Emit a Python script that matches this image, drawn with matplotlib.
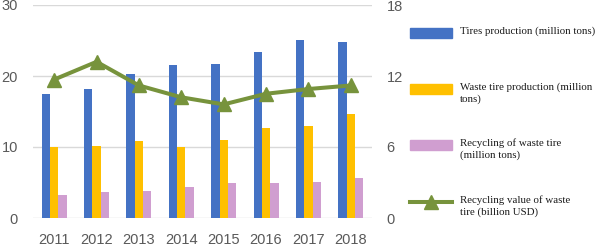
import matplotlib
matplotlib.use("Agg")
import matplotlib.pyplot as plt
import numpy as np
from matplotlib.patches import Rectangle
from matplotlib.lines import Line2D

years = ["2011", "2012", "2013", "2014", "2015", "2016", "2017", "2018"]
tires_production = [17.5, 18.1, 20.3, 21.6, 21.7, 23.4, 25.1, 24.8]
waste_tire_production = [10.0, 10.2, 10.8, 10.0, 11.0, 12.7, 13.0, 14.6]
recycling_waste_tire = [3.3, 3.7, 3.8, 4.3, 5.0, 5.0, 5.1, 5.7]
recycling_value = [11.7, 13.2, 11.2, 10.2, 9.6, 10.5, 10.9, 11.2]

left_ticks = [0, 10, 20, 30]
right_ticks = [0, 6, 12, 18]

labels = ["Tires production (million tons)",
          "Waste tire production (million\ntons)",
          "Recycling of waste tire\n(million tons)",
          "Recycling value of waste\ntire (billion USD)"]

c_blue = "#4472C4"
c_yellow = "#FFC000"
c_pink = "#D09ED0"
c_green = "#77933C"
c_tick = "#595959"

W, H = 602, 250
fig = plt.figure(figsize=(W / 100, H / 100), dpi=100)
ax = fig.add_axes([33 / W, 1 - 218 / H, (372 - 33) / W, (218 - 5) / H])

x = np.arange(len(years))
bw = 0.196
ax.bar(x - bw, tires_production, bw, color=c_blue, zorder=2)
ax.bar(x, waste_tire_production, bw, color=c_yellow, zorder=2)
ax.bar(x + bw, recycling_waste_tire, bw, color=c_pink, zorder=2)

ax.set_xlim(-0.5, len(years) - 0.5)
ax.set_ylim(0, 30)
ax.set_yticks(left_ticks)
ax.set_xticks(x)
ax.set_xticklabels(years)
ax.grid(axis="y", color="#D9D9D9", lw=1, zorder=0)
ax.set_axisbelow(True)
for s in ax.spines.values():
    s.set_visible(False)
ax.tick_params(length=0, colors=c_tick, labelsize=10.5)
ax.tick_params(axis="x", pad=11)
ax.tick_params(axis="y", pad=10.8)
for t in ax.get_yticklabels() + ax.get_xticklabels():
    t.set_fontfamily("Liberation Sans")

ax2 = ax.twinx()
ax2.plot(x, recycling_value, color=c_green, lw=2.9, marker="^", ms=10, zorder=3)
ax2.set_ylim(0, 18)
ax2.set_yticks(right_ticks)
for s in ax2.spines.values():
    s.set_visible(False)
ax2.tick_params(length=0, colors=c_tick, labelsize=10.5, pad=10.5)
for t in ax2.get_yticklabels():
    t.set_fontfamily("Liberation Sans")

# legend
lx0, lx1 = 410, 452
ys = [33, 89, 145, 202]
colors = [c_blue, c_yellow, c_pink]
for i in range(3):
    yc = ys[i]
    fig.patches.append(Rectangle((lx0 / W, 1 - (yc + 5) / H), (lx1 - lx0) / W, 10 / H,
                                 transform=fig.transFigure, color=colors[i]))
fig.lines.append(Line2D([lx0 / W, lx1 / W], [1 - ys[3] / H] * 2, transform=fig.transFigure,
                        color=c_green, lw=2.9))
fig.lines.append(Line2D([(lx0 + lx1) / 2 / W], [1 - ys[3] / H], transform=fig.transFigure,
                        color=c_green, marker="^", ms=10, lw=0))
for i, lab in enumerate(labels):
    fig.text(460 / W, 1 - (ys[i] - 6.5) / H, lab, ha="left", va="top",
             fontsize=7.85, family="Liberation Serif", color="#1a1a1a", linespacing=1.35)

fig.savefig("out.png", dpi=100)
